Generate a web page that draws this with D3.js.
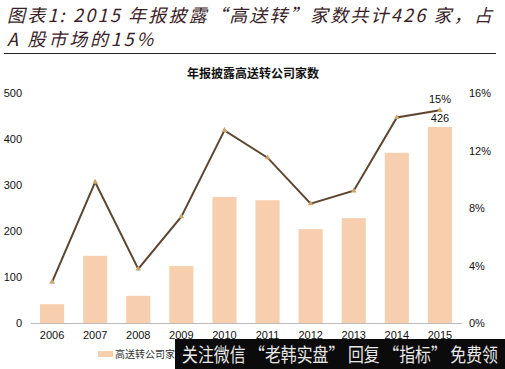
<!DOCTYPE html>
<html><head><meta charset="utf-8">
<script src="https://cdn.jsdelivr.net/npm/d3@7"></script>
<style>body{margin:0;background:#fff}svg{display:block}</style>
</head><body><div id="c"></div>
<script>
const years = ["2006","2007","2008","2009","2010","2011","2012","2013","2014","2015"];
const counts = [41,146,59,124,274,267,204,228,370,426];
const shares = [2.85,9.8,3.76,7.4,13.4,11.5,8.3,9.2,14.3,14.8];
const leftTicks = [0,100,200,300,400,500];
const rightTicks = [0,4,8,12,16];

const W=505,H=369;
const svg=d3.select("#c").append("svg").attr("width",W).attr("height",H);
const x=d3.scaleBand().domain(years).range([30.5,461.5]).paddingInner(0.44).paddingOuter(0.22);
const yL=d3.scaleLinear().domain([0,500]).range([323,93]);
const yR=d3.scaleLinear().domain([0,16]).range([323,93]);

// Title
const tf='"Noto Sans CJK SC","Noto Sans",sans-serif';
svg.append("text").attr("x",7).attr("y",22).attr("font-family",tf).attr("font-style","italic")
  .attr("font-size",18).attr("fill","#3a1e28")
  .attr("textLength",485).attr("lengthAdjust","spacing")
  .text("图表1: 2015 年报披露“高送转”家数共计426 家，占");
svg.append("text").attr("x",7).attr("y",46).attr("font-family",tf).attr("font-style","italic")
  .attr("font-size",18).attr("fill","#3a1e28")
  .attr("textLength",146).attr("lengthAdjust","spacing")
  .text("A 股市场的15%");
svg.append("line").attr("x1",4).attr("x2",496).attr("y1",53.5).attr("y2",53.5).attr("stroke","#222").attr("stroke-width",1);

svg.append("text").attr("x",253).attr("y",78).attr("text-anchor","middle").attr("font-family",'"Noto Sans CJK SC",serif')
  .attr("font-weight","bold").attr("font-size",12).attr("fill","#111").text("年报披露高送转公司家数");

// bars
svg.selectAll("rect.bar").data(years).enter().append("rect").attr("class","bar")
  .attr("x",d=>x(d)).attr("width",x.bandwidth())
  .attr("y",(d,i)=>yL(counts[i])).attr("height",(d,i)=>yL(0)-yL(counts[i]))
  .attr("fill","#f8cfae");

// axes
const axFont='"Liberation Sans",Arial,sans-serif';
const gx=svg.append("g").attr("transform","translate(0,323)")
  .call(d3.axisBottom(x).tickSize(0).tickPadding(8));
gx.select(".domain").attr("stroke","#bbb").attr("d","M31,0.5H462");
gx.selectAll("text").attr("font-family",axFont).attr("font-size",11).attr("fill","#111");

const gl=svg.append("g").attr("transform","translate(22,0)")
  .call(d3.axisLeft(yL).tickValues(leftTicks).tickSize(0).tickPadding(0));
gl.select(".domain").remove();
gl.selectAll("text").attr("font-family",axFont).attr("font-size",11).attr("fill","#111");

const gr=svg.append("g").attr("transform","translate(469,0)")
  .call(d3.axisRight(yR).tickValues(rightTicks).tickFormat(d=>d+"%").tickSize(0).tickPadding(0));
gr.select(".domain").remove();
gr.selectAll("text").attr("font-family",axFont).attr("font-size",11).attr("fill","#111");

// line
const line=d3.line().x((d,i)=>x(years[i])+x.bandwidth()/2).y(d=>yR(d));
svg.append("path").datum(shares).attr("d",line).attr("fill","none").attr("stroke","#5c4630").attr("stroke-width",2);
svg.selectAll("path.mk").data(shares).enter().append("path").attr("class","mk")
  .attr("d",d3.symbol(d3.symbolTriangle,14))
  .attr("transform",(d,i)=>`translate(${x(years[i])+x.bandwidth()/2},${yR(d)})`)
  .attr("fill","#c9a66b");

// labels for 2015
const cx=x("2015")+x.bandwidth()/2;
svg.append("text").attr("x",cx).attr("y",yR(shares[9])-7).attr("text-anchor","middle")
  .attr("font-family",axFont).attr("font-size",11).attr("fill","#111").text("15%");
svg.append("text").attr("x",cx).attr("y",yL(counts[9])-5).attr("text-anchor","middle")
  .attr("font-family",axFont).attr("font-size",11).attr("fill","#111").text(counts[9]);

// legend
svg.append("rect").attr("x",98).attr("y",351).attr("width",15).attr("height",6).attr("fill","#f8cfae");
svg.append("text").attr("x",115).attr("y",358).attr("font-family",'"Noto Sans CJK SC",serif').attr("font-size",10).attr("fill","#333").text("高送转公司家数");

// watermark overlay
svg.append("rect").attr("x",175).attr("y",339).attr("width",330).attr("height",30).attr("fill","#0b0b0b");
svg.append("text").attr("x",182).attr("y",362).attr("font-family",tf).attr("font-size",19).attr("fill","#e8e8e8")
  .attr("textLength",316).attr("lengthAdjust","spacingAndGlyphs").text("关注微信 “老韩实盘” 回复 “指标” 免费领");
</script></body></html>
